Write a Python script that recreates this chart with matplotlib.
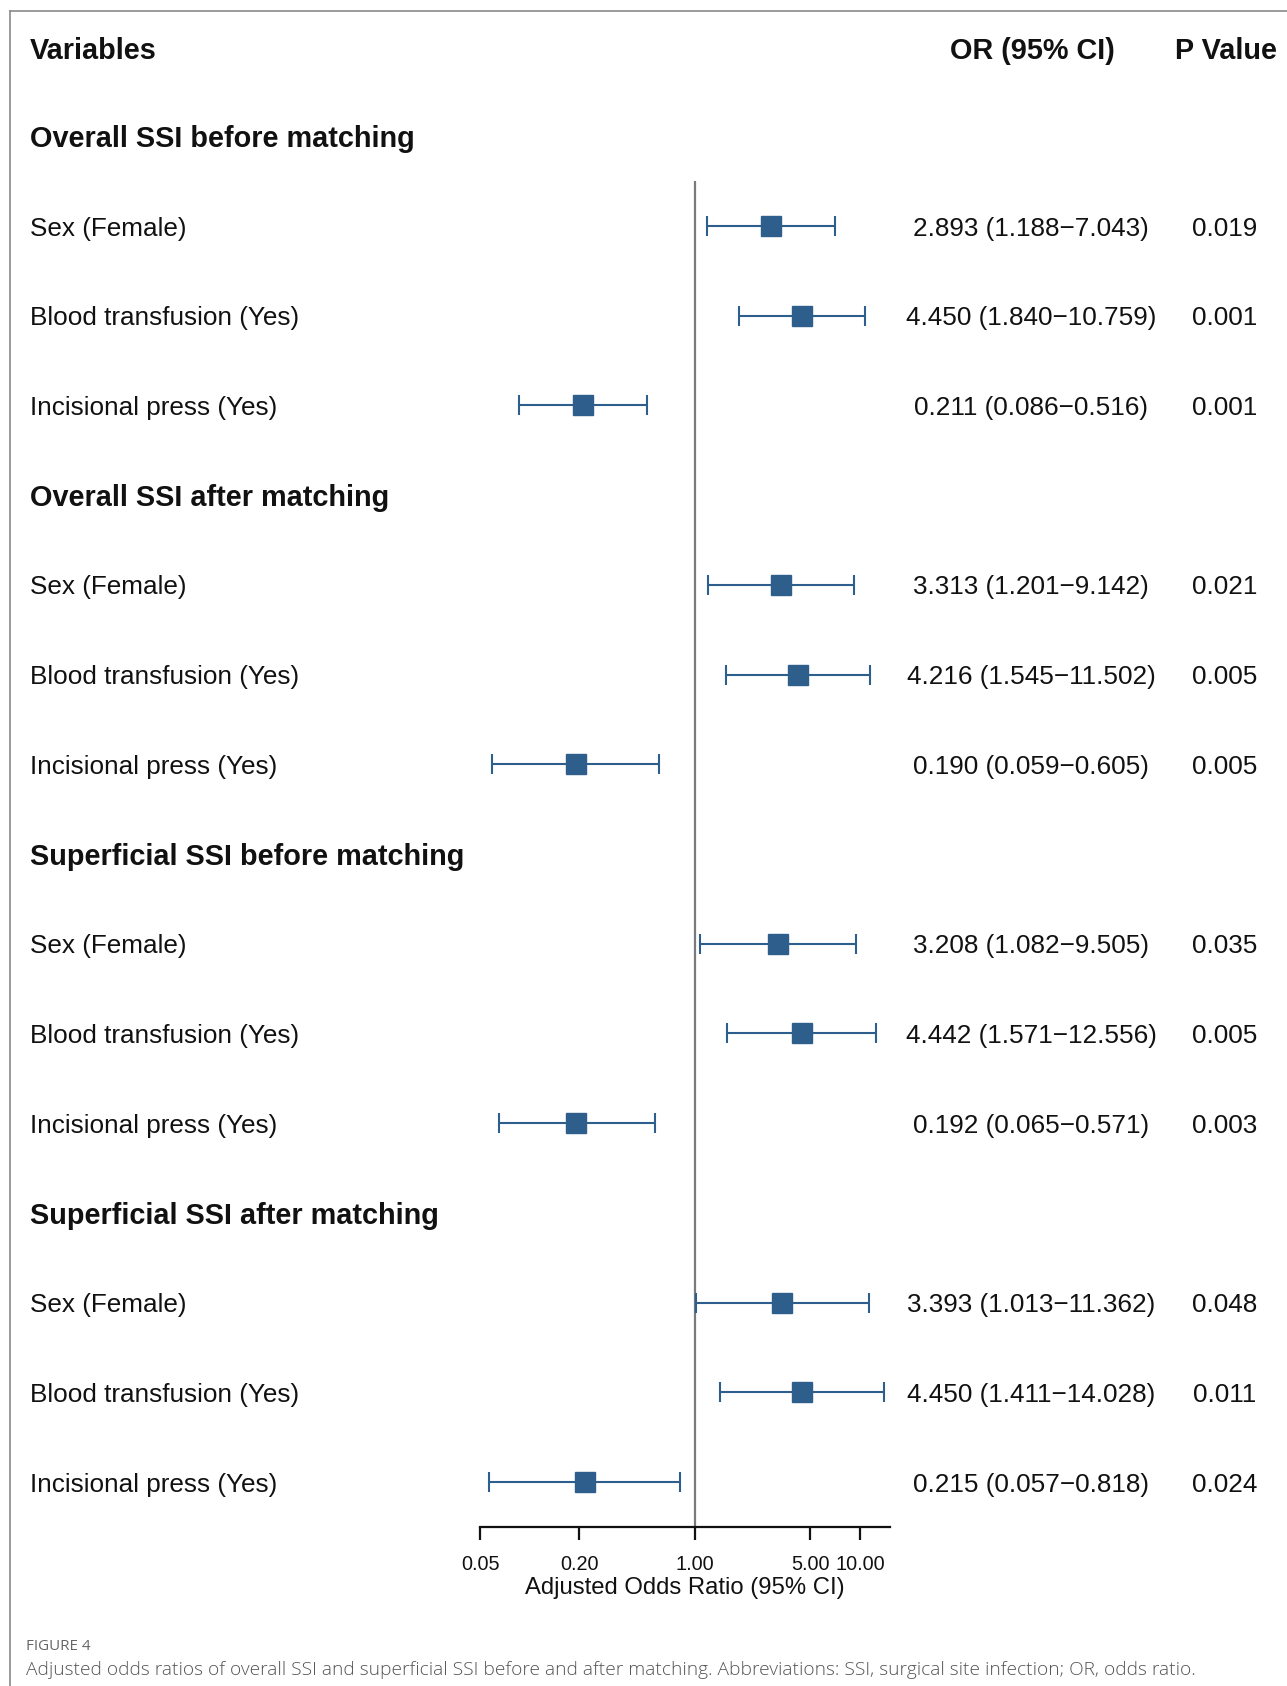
"""Forest plot of adjusted odds ratios for SSI before/after matching."""

import numpy as np
import matplotlib

matplotlib.use("Agg")
import matplotlib.pyplot as plt
from matplotlib.lines import Line2D

# Data
groups = [
    "Overall SSI before matching",
    "Overall SSI after matching",
    "Superficial SSI before matching",
    "Superficial SSI after matching",
]
variables = ["Sex (Female)", "Blood transfusion (Yes)", "Incisional press (Yes)"]

odds_ratio = [
    [2.893, 4.450, 0.211],
    [3.313, 4.216, 0.190],
    [3.208, 4.442, 0.192],
    [3.393, 4.450, 0.215],
]
ci_low = [
    [1.188, 1.840, 0.086],
    [1.201, 1.545, 0.059],
    [1.082, 1.571, 0.065],
    [1.013, 1.411, 0.057],
]
ci_high = [
    [7.043, 10.759, 0.516],
    [9.142, 11.502, 0.605],
    [9.505, 12.556, 0.571],
    [11.362, 14.028, 0.818],
]
p_values = [
    ["0.019", "0.001", "0.001"],
    ["0.021", "0.005", "0.005"],
    ["0.035", "0.005", "0.003"],
    ["0.048", "0.011", "0.024"],
]
x_ticks = [0.05, 0.20, 1.00, 5.00, 10.00]
x_tick_labels = ["0.05", "0.20", "1.00", "5.00", "10.00"]

# Styling
W, H = 1287, 1686
FONT = ["Liberation Sans", "DejaVu Sans"]
CAPTION_FONT = ["Open Sans", "DejaVu Sans"]
BOX_COLOR = "#2E5F8C"
TEXT_COLOR = "#111111"
BOLD_SIZE = 20.8
ROW_SIZE = 18.8
TEXT_SHIFT = 0.03  # small downward nudge (in rows) so text sits on row centre

plt.rcParams["font.family"] = FONT

fig = plt.figure(figsize=(W / 100, H / 100), dpi=100)

# Axes: x from 480px to 890px, y from 181px (top) to 1527px (bottom)
ax_left, ax_right = 480 / W, 890 / W
ax_top, ax_bottom = 1 - 181 / H, 1 - 1527 / H
ax = fig.add_axes([ax_left, ax_bottom, ax_right - ax_left, ax_top - ax_bottom])

ax.set_xscale("log")
x_max = 10 ** ((890 - 695) / 165.0)
ax.set_xlim(0.05, x_max)
ax.set_ylim(16.5, 1.5)

for side in ["top", "right", "left"]:
    ax.spines[side].set_visible(False)
ax.spines["bottom"].set_linewidth(1.6)
ax.spines["bottom"].set_color("#111111")
ax.set_yticks([])
ax.set_xticks(x_ticks)
ax.set_xticklabels(x_tick_labels, fontsize=14.3, color=TEXT_COLOR)
ax.xaxis.set_minor_locator(matplotlib.ticker.NullLocator())
ax.tick_params(axis="x", length=9, width=1.6, pad=11, color="#111111")
ax.set_xlabel("Adjusted Odds Ratio (95% CI)", fontsize=17.2, color=TEXT_COLOR, labelpad=2)

# Reference line at OR = 1
ax.axvline(1.0, color="#7a7a7a", linewidth=1.6, zorder=1)

# Header row
label_x = 30 / W
or_x = 1032 / W
p_x = 1226 / W
trans = matplotlib.transforms.blended_transform_factory(fig.transFigure, ax.transData)

head_y = 0 + 0.05
ax.text(label_x, head_y, "Variables", transform=trans, ha="left", va="center",
        fontsize=BOLD_SIZE, fontweight="bold", color=TEXT_COLOR, clip_on=False)
ax.text(or_x, head_y, "OR (95% CI)", transform=trans, ha="center", va="center",
        fontsize=BOLD_SIZE, fontweight="bold", color=TEXT_COLOR, clip_on=False)
ax.text(p_x, head_y, "P Value", transform=trans, ha="center", va="center",
        fontsize=BOLD_SIZE, fontweight="bold", color=TEXT_COLOR, clip_on=False)

row = 1
for g, group in enumerate(groups):
    ax.text(label_x, row + TEXT_SHIFT, group, transform=trans, ha="left", va="center",
            fontsize=BOLD_SIZE, fontweight="bold", color=TEXT_COLOR, clip_on=False)
    row += 1
    for v, var in enumerate(variables):
        est = odds_ratio[g][v]
        lo = ci_low[g][v]
        hi = ci_high[g][v]
        ax.errorbar([est], [row], xerr=[[est - lo], [hi - est]], fmt="s",
                    color=BOX_COLOR, ecolor=BOX_COLOR, markersize=14.5,
                    elinewidth=1.5, capsize=7.5, capthick=1.5, zorder=3)
        ty = row + TEXT_SHIFT
        ax.text(label_x, ty, var, transform=trans, ha="left", va="center",
                fontsize=ROW_SIZE, color=TEXT_COLOR, clip_on=False)
        ax.text(or_x - 1 / W, ty, f"{est:.3f} ({lo:.3f}\u2212{hi:.3f})", transform=trans,
                ha="center", va="center", fontsize=ROW_SIZE, color=TEXT_COLOR, clip_on=False)
        ax.text(p_x - 1 / W, ty, p_values[g][v], transform=trans, ha="center", va="center",
                fontsize=ROW_SIZE, color=TEXT_COLOR, clip_on=False)
        row += 1

# Frame lines (top and left)
fig.add_artist(Line2D([10 / W, 1], [1 - 11 / H, 1 - 11 / H], transform=fig.transFigure,
                      color="#8a8a8a", linewidth=1.2))
fig.add_artist(Line2D([10 / W, 10 / W], [0, 1 - 11 / H], transform=fig.transFigure,
                      color="#8a8a8a", linewidth=1.2))

# Caption
fig.text(26 / W, 1 - 1646 / H, "FIGURE 4", ha="left", va="center", fontsize=10.9,
         color="#666666", family=CAPTION_FONT)
fig.text(26 / W, 1 - 1670 / H,
         "Adjusted odds ratios of overall SSI and superficial SSI before and after matching. "
         "Abbreviations: SSI, surgical site infection; OR, odds ratio.",
         ha="left", va="center", fontsize=13.8, color="#555555",
         family=CAPTION_FONT, fontweight="light")

fig.savefig("out.png", dpi=100, facecolor="white")
